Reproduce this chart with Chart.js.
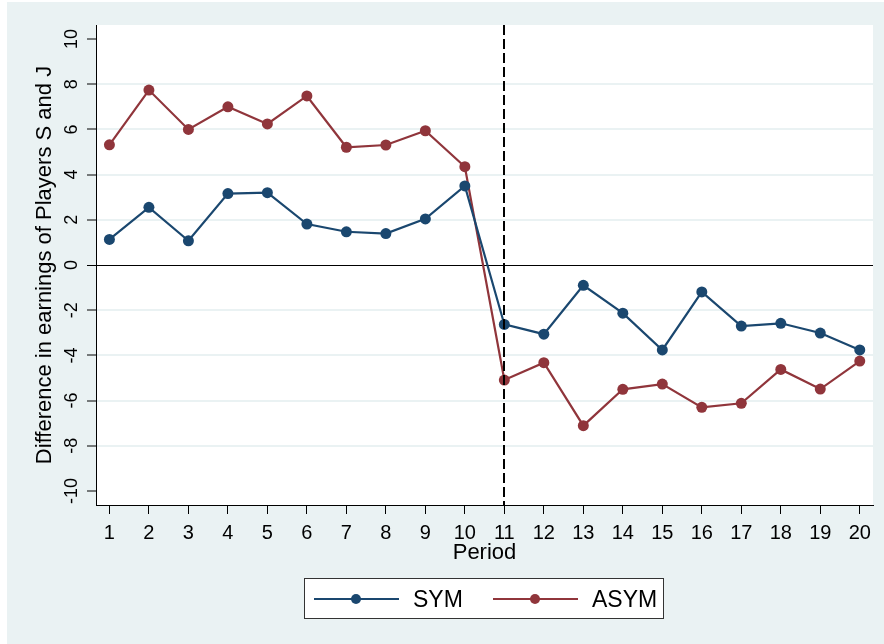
<!DOCTYPE html>
<html>
<head>
<meta charset="utf-8">
<script src="https://cdn.jsdelivr.net/npm/chart.js@4"></script>
<style>
  html, body { margin: 0; padding: 0; background: #fff; }
  canvas { display: block; }
</style>
</head>
<body>
<canvas id="grafico" width="884" height="644"></canvas>
<script>
// dati
const periods = [1, 2, 3, 4, 5, 6, 7, 8, 9, 10, 11, 12, 13, 14, 15, 16, 17, 18, 19, 20];
const sym  = [1.13, 2.55, 1.07, 3.16, 3.2, 1.81, 1.47, 1.39, 2.04, 3.5, -2.63, -3.06, -0.9, -2.13, -3.76, -1.19, -2.7, -2.58, -3.01, -3.76];
const asym = [5.32, 7.74, 6.0, 7.0, 6.24, 7.48, 5.21, 5.31, 5.94, 4.35, -5.09, -4.32, -7.11, -5.5, -5.27, -6.3, -6.12, -4.62, -5.49, -4.25];
const yTicks = [-10, -8, -6, -4, -2, 0, 2, 4, 6, 8, 10];
const seriesNames = ['SYM', 'ASYM'];
const breakPeriod = 11;

const NAVY = '#1A476F';
const MAROON = '#90353B';
const BG = '#EAF2F3';
const FONT = "'Liberation Sans', Arial, sans-serif";

const toPoints = arr => arr.map((v, i) => ({ x: periods[i], y: v }));

// sfondo stile Stata
const sfondo = {
    id: 'sfondo',
    beforeDraw(chart) {
        const { ctx, chartArea: a } = chart;
        ctx.save();
        ctx.fillStyle = '#fff';
        ctx.fillRect(0, 0, chart.width, chart.height);
        ctx.fillStyle = BG;
        ctx.fillRect(7, 2, chart.width - 7, chart.height - 2);
        ctx.fillStyle = '#fff';
        ctx.fillRect(a.left, a.top, a.right - a.left, a.bottom - a.top);
        ctx.restore();
    }
};

// linea tratteggiata al periodo 11
const lineaVerticale = {
    id: 'lineaVerticale',
    afterDatasetsDraw(chart) {
        const { ctx, chartArea: a, scales: { x } } = chart;
        const px = Math.round(x.getPixelForValue(breakPeriod));
        ctx.save();
        ctx.strokeStyle = '#000';
        ctx.lineWidth = 2;
        ctx.setLineDash([10, 4]);
        ctx.beginPath();
        ctx.moveTo(px, a.top);
        ctx.lineTo(px, a.bottom);
        ctx.stroke();
        ctx.restore();
    }
};

// etichette assi (y ruotate come in Stata) e legenda
const testi = {
    id: 'testi',
    afterDraw(chart) {
        const { ctx, chartArea: a, scales: { x, y } } = chart;
        ctx.save();
        ctx.fillStyle = '#000';
        ctx.textAlign = 'center';
        ctx.textBaseline = 'middle';

        ctx.font = '18px ' + FONT;
        yTicks.forEach(v => {
            ctx.save();
            ctx.translate(72, y.getPixelForValue(v));
            ctx.rotate(-Math.PI / 2);
            ctx.fillText(String(v), 0, 0);
            ctx.restore();
        });

        ctx.font = '22px ' + FONT;
        ctx.save();
        ctx.translate(45, (a.top + a.bottom) / 2);
        ctx.rotate(-Math.PI / 2);
        ctx.fillText('Difference in earnings of Players S and J', 0, 0);
        ctx.restore();

        ctx.font = '20px ' + FONT;
        periods.forEach(p => ctx.fillText(String(p), x.getPixelForValue(p), 533));

        ctx.font = '22px ' + FONT;
        ctx.fillText('Period', (a.left + a.right) / 2, 553);

        // legenda
        ctx.fillStyle = '#fff';
        ctx.fillRect(304, 578, 359, 40);
        ctx.strokeStyle = '#333';
        ctx.lineWidth = 1;
        ctx.strokeRect(304.5, 578.5, 359, 40);
        const items = [
            { name: seriesNames[0], color: NAVY, x0: 314 },
            { name: seriesNames[1], color: MAROON, x0: 493 }
        ];
        items.forEach(it => {
            ctx.strokeStyle = it.color;
            ctx.lineWidth = 2;
            ctx.beginPath();
            ctx.moveTo(it.x0, 599);
            ctx.lineTo(it.x0 + 85, 599);
            ctx.stroke();
            ctx.fillStyle = it.color;
            ctx.beginPath();
            ctx.arc(it.x0 + 42, 599, 5, 0, Math.PI * 2);
            ctx.fill();
            ctx.fillStyle = '#000';
            ctx.font = '23px ' + FONT;
            ctx.textAlign = 'left';
            ctx.fillText(it.name, it.x0 + 99, 601);
        });
        ctx.restore();
    }
};

const ctx = document.getElementById('grafico').getContext('2d');

new Chart(ctx, {
    type: 'line',
    data: {
        datasets: [
            { label: seriesNames[0], data: toPoints(sym), borderColor: NAVY, backgroundColor: NAVY },
            { label: seriesNames[1], data: toPoints(asym), borderColor: MAROON, backgroundColor: MAROON }
        ]
    },
    options: {
        responsive: false,
        animation: false,
        devicePixelRatio: 1,
        layout: { padding: { left: 0, top: 25, right: 11, bottom: 119 } },
        elements: {
            line: { borderWidth: 2.2, tension: 0 },
            point: { radius: 5.5, borderWidth: 0, hoverRadius: 5.5 }
        },
        plugins: {
            legend: { display: false },
            tooltip: { enabled: false }
        },
        scales: {
            x: {
                type: 'linear',
                min: 0.66,
                max: 20.335,
                afterBuildTicks: s => { s.ticks = periods.map(v => ({ value: v })); },
                afterFit: s => { s.height = 20; },
                ticks: { display: false },
                grid: { drawOnChartArea: false, tickLength: 9, tickColor: '#000', tickWidth: 1 },
                border: { color: '#000', width: 1 }
            },
            y: {
                min: -10.62,
                max: 10.62,
                afterBuildTicks: s => { s.ticks = yTicks.map(v => ({ value: v })); },
                afterFit: s => { s.width = 96; },
                ticks: { display: false },
                grid: {
                    color: c => c.tick.value === 0 ? '#000' : (Math.abs(c.tick.value) === 10 ? 'rgba(0,0,0,0)' : BG),
                    lineWidth: c => c.tick.value === 0 ? 1 : 2,
                    tickLength: 9,
                    tickColor: '#000',
                    tickWidth: 1
                },
                border: { color: '#000', width: 1 }
            }
        }
    },
    plugins: [sfondo, lineaVerticale, testi]
});
</script>
</body>
</html>
